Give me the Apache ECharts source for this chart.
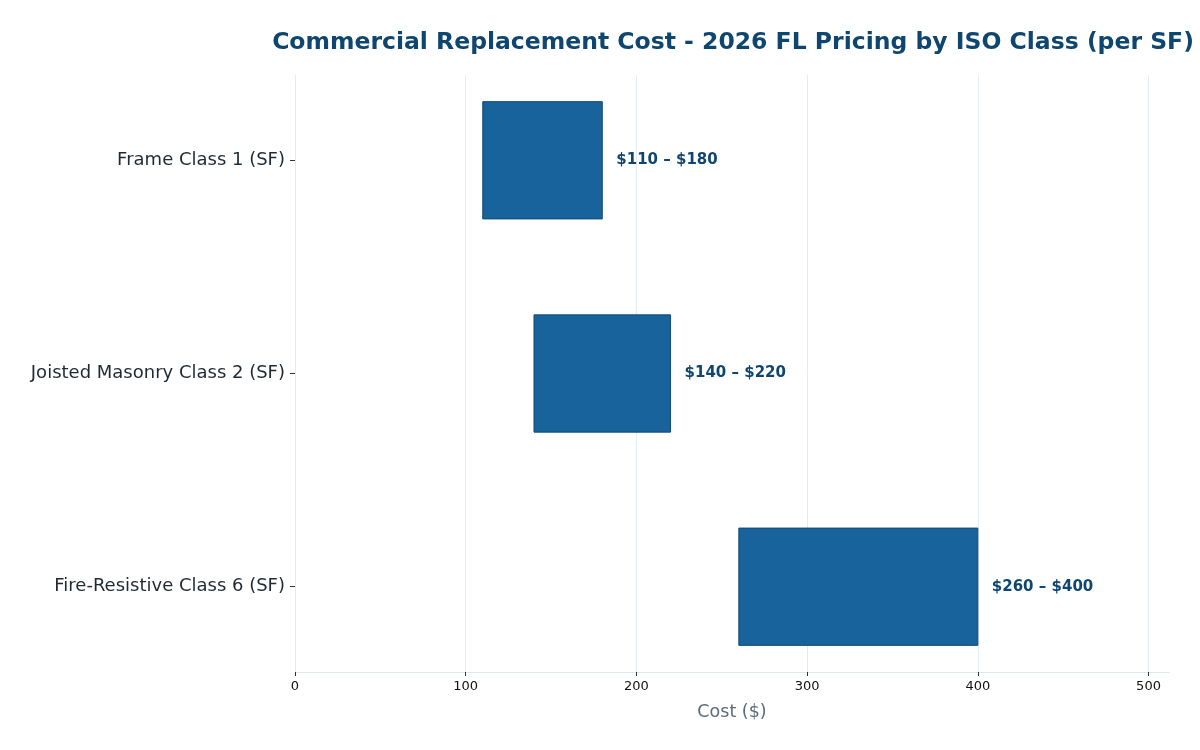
<!DOCTYPE html>
<html>
<head>
<meta charset="utf-8">
<script src="https://cdn.jsdelivr.net/npm/echarts@6/dist/echarts.min.js"></script>
<style>
  html, body { margin: 0; padding: 0; background: #fff; }
  #chart { width: 1200px; height: 750px; }
</style>
</head>
<body>
<div id="chart"></div>
<script>
const categories = ['Frame Class 1 (SF)', 'Joisted Masonry Class 2 (SF)', 'Fire-Resistive Class 6 (SF)'];
const lowCost = [110, 140, 260];
const highCost = [180, 220, 400];
const xTicks = [0, 100, 200, 300, 400, 500];

const font = 'DejaVu Sans';
const darkBlue = '#0f4670';

// [low, high, categoryIndex]
const data = categories.map(function (c, i) {
    return [lowCost[i], highCost[i], i];
});

const myChart = echarts.init(document.getElementById('chart'), null, {renderer: 'canvas'});

const option = {
    animation: false,
    title: {
        text: 'Commercial Replacement Cost - 2026 FL Pricing by ISO Class (per SF)',
        left: 728,
        textAlign: 'center',
        top: 26,
        textStyle: {
            fontFamily: font,
            fontSize: 23.5,
            fontWeight: 'bold',
            color: darkBlue
        }
    },
    grid: {
        left: 295,
        right: 31,
        top: 75,
        bottom: 78
    },
    xAxis: {
        type: 'value',
        min: 0,
        max: 512,
        interval: 100,
        name: 'Cost ($)',
        nameLocation: 'middle',
        nameGap: 31,
        nameTextStyle: {
            fontFamily: font,
            fontSize: 17.5,
            color: '#5b6b7c'
        },
        axisLine: {
            show: true,
            onZero: false,
            lineStyle: {color: '#dfe7ee', width: 1}
        },
        axisTick: {
            show: true,
            length: 4,
            customValues: xTicks,
            lineStyle: {color: '#333'}
        },
        axisLabel: {
            customValues: xTicks,
            margin: 8,
            fontFamily: font,
            fontSize: 13,
            color: '#111'
        },
        splitLine: {
            show: true,
            customValues: xTicks,
            lineStyle: {color: '#e4ebf2', width: 1}
        }
    },
    yAxis: {
        type: 'value',
        min: -0.4,
        max: 2.4,
        inverse: true,
        axisLine: {show: false, onZero: false},
        splitLine: {show: false},
        axisTick: {
            show: true,
            length: 5,
            customValues: [0, 1, 2],
            lineStyle: {color: '#333'}
        },
        axisLabel: {
            customValues: [0, 1, 2],
            margin: 10,
            fontFamily: font,
            fontSize: 18,
            color: '#1f2933',
            formatter: function (v) {
                return categories[Math.round(v)];
            }
        }
    },
    series: [{
        type: 'custom',
        data: data,
        encode: {x: [0, 1], y: 2},
        renderItem: function (params, api) {
            const low = api.value(0);
            const high = api.value(1);
            const idx = api.value(2);
            const p0 = api.coord([low, idx - 0.275]);
            const p1 = api.coord([high, idx + 0.275]);
            const mid = api.coord([high, idx]);
            return {
                type: 'group',
                children: [{
                    type: 'rect',
                    shape: {x: p0[0], y: p0[1], width: p1[0] - p0[0], height: p1[1] - p0[1]},
                    style: {fill: '#18639b', stroke: '#0f4a75', lineWidth: 1}
                }, {
                    type: 'text',
                    x: mid[0] + 14,
                    y: mid[1],
                    style: {
                        text: '$' + low + ' \u2013 $' + high,
                        fill: darkBlue,
                        font: 'bold 15px "DejaVu Sans"',
                        verticalAlign: 'middle',
                        align: 'left'
                    }
                }]
            };
        }
    }]
};

myChart.setOption(option);
</script>
</body>
</html>
